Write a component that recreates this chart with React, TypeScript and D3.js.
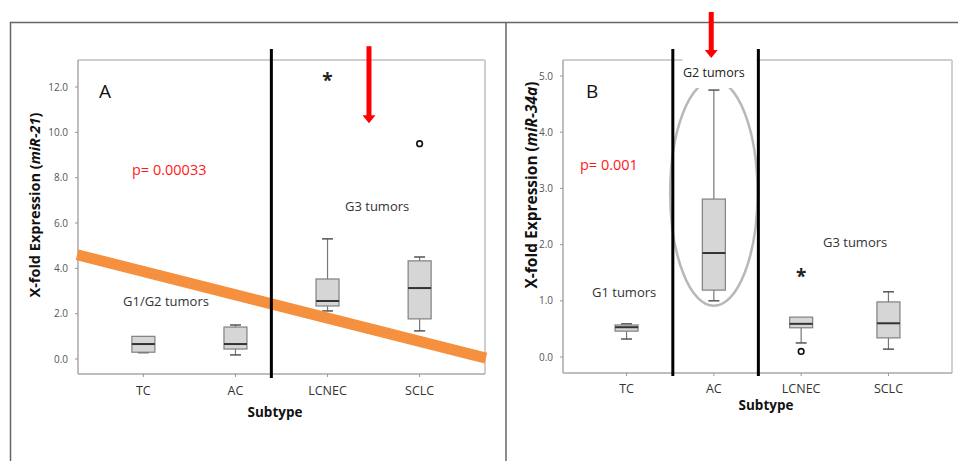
import React from "react";
import * as d3 from "d3";

const categories = ["TC", "AC", "LCNEC", "SCLC"];

// Panel A (miR-21)
const aMin = [0.28, 0.18, 2.12, 1.24];
const aQ1 = [0.3, 0.44, 2.34, 1.77];
const aMedian = [0.66, 0.66, 2.56, 3.13];
const aQ3 = [1.0, 1.41, 3.53, 4.33];
const aMax = [1.0, 1.5, 5.3, 4.5];
const aExtremes = [{ cat: "LCNEC", v: 12.4 }];
const aOutliers = [{ cat: "SCLC", v: 9.5 }];
const aTicks = [0, 2, 4, 6, 8, 10, 12];
const aTrend = [[-0.72, 4.6], [3.72, 0.04]]; // [category index, value]

// Panel B (miR-34a)
const bMin = [0.32, 1.0, 0.25, 0.14];
const bQ1 = [0.46, 1.19, 0.52, 0.34];
const bMedian = [0.53, 1.85, 0.59, 0.6];
const bQ3 = [0.57, 2.81, 0.71, 0.98];
const bMax = [0.59, 4.75, 0.71, 1.16];
const bExtremes = [{ cat: "LCNEC", v: 1.48 }];
const bOutliers = [{ cat: "LCNEC", v: 0.1 }];
const bTicks = [0, 1, 2, 3, 4, 5];

const FONT = "'Open Sans', 'DejaVu Sans', sans-serif";

type PanelProps = {
  letter: string;
  mir: string;
  mins: number[];
  q1: number[];
  med: number[];
  q3: number[];
  maxs: number[];
  extremes: { cat: string; v: number }[];
  outliers: { cat: string; v: number }[];
  ticks: number[];
  yDomain: [number, number];
  yRange: [number, number];
  xRange: [number, number];
  xPad: number;
  frameTop: number;
  axisY: number;
  titleX: number;
  titleY: number;
  titleSize: number;
  subtypeX: number;
  subtypeY: number;
  catY: number;
  letterPos: [number, number];
  pText: string;
  pPos: [number, number];
  separators: number[];
  sepTop: number;
  sepBottom: number;
  arrow: { i: number; top: number; bottom: number };
  labels: { text: string; x: number; y: number }[];
  children?: (x: (i: number) => number, y: d3.ScaleLinear<number, number>) => React.ReactNode;
  under?: (x: (i: number) => number, y: d3.ScaleLinear<number, number>) => React.ReactNode;
};

function Panel(p: PanelProps) {
  const xs = d3.scalePoint<string>().domain(categories).range(p.xRange).padding(p.xPad);
  const y = d3.scaleLinear().domain(p.yDomain).range(p.yRange);
  const step = xs.step();
  const xi = (i: number) => (xs(categories[0]) as number) + i * step;
  const [x0, x1] = p.xRange;
  const boxW = 23;
  const capW = 11;
  return (
    <g>
      {/* frame */}
      <line x1={x0} x2={x1} y1={p.frameTop} y2={p.frameTop} stroke="#cfcfcf" strokeWidth={2} />
      <line x1={x1} x2={x1} y1={p.frameTop} y2={p.axisY} stroke="#cfcfcf" strokeWidth={2} />
      <line x1={x0} x2={x0} y1={p.frameTop} y2={p.axisY} stroke="#a8a8a8" strokeWidth={1.5} />
      <line x1={x0} x2={x1} y1={p.axisY} y2={p.axisY} stroke="#a8a8a8" strokeWidth={1.5} />
      {/* y ticks */}
      {p.ticks.map((t) => (
        <g key={t}>
          <line x1={x0 - 3} x2={x0} y1={y(t)} y2={y(t)} stroke="#999" />
          <text x={x0 - 10} y={y(t) + 3.5} fontSize={10} fill="#555" textAnchor="end" fontFamily={FONT}>
            {d3.format(".1f")(t)}
          </text>
        </g>
      ))}
      {/* x ticks */}
      {categories.map((c) => (
        <g key={c}>
          <line x1={xs(c)} x2={xs(c)} y1={p.axisY} y2={p.axisY + 3} stroke="#999" />
          <text x={xs(c)} y={p.catY} fontSize={12.5} fill="#333" textAnchor="middle" fontFamily={FONT}>
            {c}
          </text>
        </g>
      ))}
      {p.under && p.under(xi, y)}
      {/* boxes */}
      {categories.map((c, i) => {
        const cx = xs(c) as number;
        return (
          <g key={c}>
            {p.maxs[i] > p.q3[i] && (
              <>
                <line x1={cx} x2={cx} y1={y(p.maxs[i])} y2={y(p.q3[i])} stroke="#777" strokeWidth={1.2} />
                <line x1={cx - capW / 2} x2={cx + capW / 2} y1={y(p.maxs[i])} y2={y(p.maxs[i])} stroke="#555" strokeWidth={1.5} />
              </>
            )}
            {p.mins[i] < p.q1[i] && (
              <>
                <line x1={cx} x2={cx} y1={y(p.q1[i])} y2={y(p.mins[i])} stroke="#777" strokeWidth={1.2} />
                <line x1={cx - capW / 2} x2={cx + capW / 2} y1={y(p.mins[i])} y2={y(p.mins[i])} stroke="#555" strokeWidth={1.5} />
              </>
            )}
            <rect
              x={cx - boxW / 2}
              y={y(p.q3[i])}
              width={boxW}
              height={y(p.q1[i]) - y(p.q3[i])}
              fill="#d6d6d6"
              stroke="#808080"
              strokeWidth={1.2}
            />
            <line x1={cx - boxW / 2} x2={cx + boxW / 2} y1={y(p.med[i])} y2={y(p.med[i])} stroke="#333" strokeWidth={2} />
          </g>
        );
      })}
      {p.extremes.map((e, k) => (
        <text key={k} x={xs(e.cat)} y={y(e.v) + 9} fontSize={19} fontWeight="bold" textAnchor="middle" fill="#222" fontFamily={FONT}>
          *
        </text>
      ))}
      {p.outliers.map((o, k) => (
        <circle key={k} cx={xs(o.cat)} cy={y(o.v)} r={2.8} fill="none" stroke="#111" strokeWidth={1.6} />
      ))}
      {p.children && p.children(xi, y)}
      {/* separators */}
      {p.separators.map((s, k) => (
        <line key={k} x1={xi(s)} x2={xi(s)} y1={p.sepTop} y2={p.sepBottom} stroke="#000" strokeWidth={3} />
      ))}
      {/* arrow */}
      <line x1={xi(p.arrow.i)} x2={xi(p.arrow.i)} y1={y(p.arrow.top)} y2={y(p.arrow.bottom) - 7} stroke="#ff0000" strokeWidth={5} />
      <path
        d={`M${xi(p.arrow.i) - 6.5},${y(p.arrow.bottom) - 8} L${xi(p.arrow.i) + 6.5},${y(p.arrow.bottom) - 8} L${xi(p.arrow.i)},${y(p.arrow.bottom)} Z`}
        fill="#ff0000"
      />
      {/* texts */}
      <text x={p.letterPos[0]} y={p.letterPos[1]} fontSize={19} fill="#111" fontFamily={FONT}>
        {p.letter}
      </text>
      <text x={p.pPos[0]} y={p.pPos[1]} fontSize={14.5} fill="#ff1a1a" fontFamily={FONT}>
        {p.pText}
      </text>
      {p.labels.map((l, k) => (
        <text key={k} x={l.x} y={l.y} fontSize={13} fill="#333" fontFamily={FONT}>
          {l.text}
        </text>
      ))}
      <text
        transform={`translate(${p.titleX},${p.titleY}) rotate(-90)`}
        textAnchor="middle"
        fontSize={p.titleSize}
        fontWeight="bold"
        fill="#111"
        fontFamily={FONT}
      >
        X-fold Expression (<tspan fontStyle="italic">{p.mir}</tspan>)
      </text>
      <text x={p.subtypeX} y={p.subtypeY} textAnchor="middle" fontSize={13.5} fontWeight="bold" fill="#111" fontFamily={FONT}>
        Subtype
      </text>
    </g>
  );
}

export default function App() {
  const line = d3.line<number[]>();
  return (
    <svg width={958} height={461} style={{ position: "absolute", left: 0, top: 0, background: "#fff" }}>
      <rect width={958} height={461} fill="#fff" />
      {/* outer borders */}
      <path d="M10.5,470 L10.5,22.5 L958,22.5" fill="none" stroke="#666" strokeWidth={1.5} />
      <line x1={506} x2={506} y1={22} y2={470} stroke="#666" strokeWidth={1.5} />

      <Panel
        letter="A"
        mir="miR-21"
        mins={aMin}
        q1={aQ1}
        med={aMedian}
        q3={aQ3}
        maxs={aMax}
        extremes={aExtremes}
        outliers={aOutliers}
        ticks={aTicks}
        yDomain={[0, 12]}
        yRange={[359, 87]}
        xRange={[78, 485]}
        xPad={0.71}
        frameTop={60}
        axisY={374}
        titleX={40}
        titleY={205}
        titleSize={14.5}
        subtypeX={275}
        subtypeY={417}
        catY={395}
        letterPos={[99, 98]}
        pText="p= 0.00033"
        pPos={[132, 175]}
        separators={[1.39]}
        sepTop={49}
        sepBottom={378}
        arrow={{ i: 2.45, top: 13.8, bottom: 10.4 }}
        labels={[
          { text: "G3 tumors", x: 345, y: 211 },
          { text: "G1/G2 tumors", x: 123, y: 306 },
        ]}
        children={(xi, y) => (
          <path
            d={line(aTrend.map(([i, v]) => [xi(i), y(v)])) as string}
            stroke="#f5913e"
            strokeWidth={11}
            fill="none"
          />
        )}
      />

      <Panel
        letter="B"
        mir="miR-34a"
        mins={bMin}
        q1={bQ1}
        med={bMedian}
        q3={bQ3}
        maxs={bMax}
        extremes={bExtremes}
        outliers={bOutliers}
        ticks={bTicks}
        yDomain={[0, 5]}
        yRange={[357, 76]}
        xRange={[563, 952]}
        xPad={0.728}
        frameTop={60}
        axisY={373}
        titleX={537}
        titleY={185}
        titleSize={15.5}
        subtypeX={766}
        subtypeY={410}
        catY={393}
        letterPos={[586, 98]}
        pText="p= 0.001"
        pPos={[580, 170]}
        separators={[0.53, 1.51]}
        sepTop={49}
        sepBottom={376}
        arrow={{ i: 0.97, top: 6.14, bottom: 5.32 }}
        labels={[
          { text: "G3 tumors", x: 823, y: 247 },
          { text: "G1 tumors", x: 592, y: 297 },
        ]}
        under={(xi, y) => (
          <g>
            <ellipse
              cx={xi(1)}
              cy={y(2.92)}
              rx={xi(0.5) - xi(0)}
              ry={y(0) - y(2.01)}
              fill="none"
              stroke="#b8b8b8"
              strokeWidth={2.5}
            />
            <rect x={xi(0.64)} y={58} width={xi(1.49) - xi(0.64)} height={30} fill="#fff" />
            <text x={xi(1)} y={77} textAnchor="middle" fontSize={12.5} fill="#222" fontFamily={FONT}>
              G2 tumors
            </text>
          </g>
        )}
      />
    </svg>
  );
}
